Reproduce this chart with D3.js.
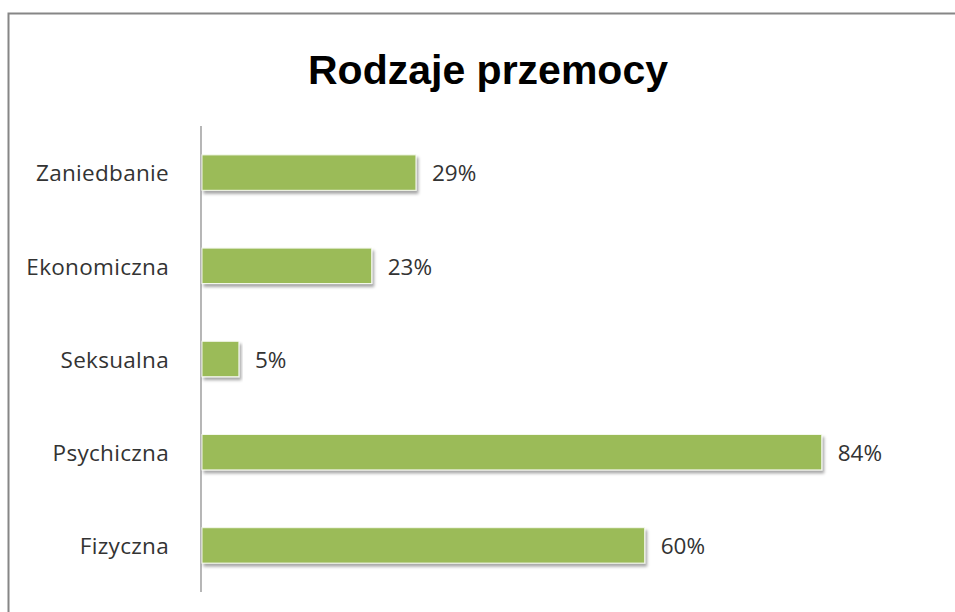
<!DOCTYPE html>
<html>
<head>
<meta charset="utf-8">
<script src="https://cdn.jsdelivr.net/npm/d3@7"></script>
<style>
  html, body { margin: 0; padding: 0; background: #fff; }
  svg { display: block; }
</style>
</head>
<body>
<svg id="chart" width="955" height="612"></svg>
<script>
const title = "Rodzaje przemocy";
const categories = ["Zaniedbanie", "Ekonomiczna", "Seksualna", "Psychiczna", "Fizyczna"];
const values = [29, 23, 5, 84, 60];
const valueLabels = ["29%", "23%", "5%", "84%", "60%"];

const svg = d3.select("#chart");

const defs = svg.append("defs");
const f = defs.append("filter").attr("id", "shadow")
  .attr("x", "-5%").attr("y", "-30%").attr("width", "115%").attr("height", "180%");
f.append("feDropShadow").attr("dx", 2).attr("dy", 3).attr("stdDeviation", 1.8)
  .attr("flood-color", "#000").attr("flood-opacity", 0.35);

// outer border (top and left visible)
svg.append("rect").attr("x", 8.5).attr("y", 13.5).attr("width", 960).attr("height", 620)
  .attr("fill", "#fff").attr("stroke", "#868686").attr("stroke-width", 2);

svg.append("text").attr("x", 488).attr("y", 84)
  .attr("text-anchor", "middle")
  .attr("font-family", "Liberation Sans, Arial, sans-serif")
  .attr("font-weight", "bold").attr("font-size", 41).attr("fill", "#000")
  .text(title);

const x = d3.scaleLinear().domain([0, 90]).range([202, 866]);
const y = d3.scaleBand().domain(categories).range([126, 592]).paddingInner(0.62).paddingOuter(0.31);

// axis line
svg.append("line").attr("x1", 201).attr("x2", 201).attr("y1", 126).attr("y2", 592)
  .attr("stroke", "#868686").attr("stroke-width", 1.2);

const data = categories.map((c, i) => ({ c, v: values[i], l: valueLabels[i] }));

svg.append("g").selectAll("rect").data(data).join("rect")
  .attr("x", x(0)).attr("y", d => y(d.c))
  .attr("width", d => x(d.v) - x(0)).attr("height", y.bandwidth())
  .attr("fill", "#9BBB59").attr("stroke", "#f4f8ec").attr("stroke-width", 1)
  .attr("filter", "url(#shadow)");

const font = "'Open Sans', Lato, sans-serif";
svg.append("g").selectAll("text").data(data).join("text")
  .attr("x", 169).attr("y", d => y(d.c) + y.bandwidth() / 2 + 1)
  .attr("dy", "0.35em").attr("text-anchor", "end")
  .attr("font-family", font).attr("font-size", 22.5).attr("letter-spacing", 0.3).attr("fill", "#333")
  .text(d => d.c);

svg.append("g").selectAll("text").data(data).join("text")
  .attr("x", d => x(d.v) + 16).attr("y", d => y(d.c) + y.bandwidth() / 2 + 1)
  .attr("dy", "0.35em").attr("text-anchor", "start")
  .attr("font-family", font).attr("font-size", 22.5).attr("fill", "#333")
  .text(d => d.l);
</script>
</body>
</html>
